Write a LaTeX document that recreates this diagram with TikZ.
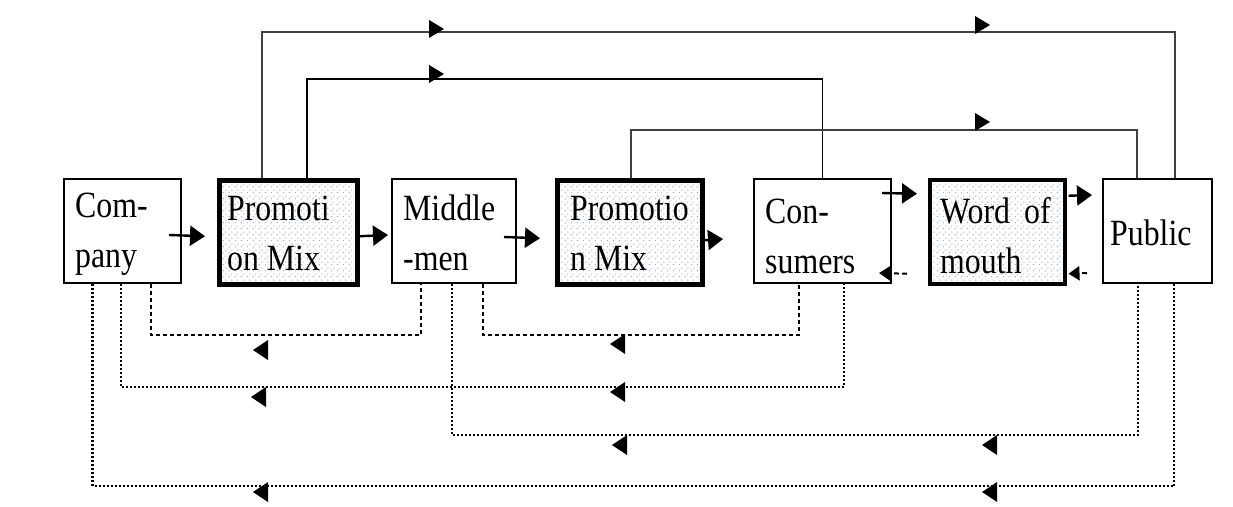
\documentclass[tikz,border=0pt]{standalone}
\usepackage{fontspec}
\newfontfamily\boxfont[FakeStretch=0.86]{Liberation Serif}
\usetikzlibrary{arrows.meta,patterns.meta}
\tikzdeclarepattern{
  name=sparsedots,
  type=uncolored,
  bounding box={(0pt,0pt) and (6pt,6pt)},
  tile size={(6pt,6pt)},
  code={\fill (1.5pt,1.5pt) circle (0.8pt); \fill (4.5pt,4.5pt) circle (0.8pt);}
}
\newcommand\myleftHead[2]{\fill (#1,#2) -- ++(15,-10) -- ++(0,20) -- cycle;}
\newcommand\myrightHead[2]{\fill (#1,#2) -- ++(-15,-9) -- ++(0,18) -- cycle;}
\begin{document}
\begin{tikzpicture}[x=1pt,y=-1pt,
  box/.style={draw, line width=2pt, minimum height=104pt, inner sep=0pt, anchor=north west},
  pbox/.style={box, line width=4.5pt, pattern=sparsedots, pattern color={rgb,255:red,150;green,178;blue,200}},
  wbox/.style={pbox, line width=3.5pt},
  txt/.style={font=\boxfont\fontsize{37}{50}\selectfont, align=left, inner sep=0pt, anchor=north west},
  arr/.style={line width=2.4pt, -{Triangle[length=15pt,width=20pt]}},
  back/.style={line width=2pt, dash pattern=on 5pt off 3pt, -{Triangle[length=11pt,width=14pt]}},
  topa/.style={line width=2pt, black!75},
  topb/.style={line width=1.8pt, black},
  dl/.style={line width=2.2pt, dash pattern=on 4pt off 3pt},
  dd/.style={line width=2.6pt, dash pattern=on 2pt off 2pt}
]
\useasboundingbox[fill=white] (0,0) rectangle (1233,506);

% boxes
\node[box,  minimum width=117pt] (comp) at (63,178) {};
\node[pbox, minimum width=138pt] (pm1)  at (217,178) {};
\node[box,  minimum width=124pt] (mm)   at (391,178) {};
\node[pbox, minimum width=145pt] (pm2)  at (555,178) {};
\node[box,  minimum width=137pt] (cons) at (753,178) {};
\node[wbox, minimum width=135pt] (wom)  at (928,178) {};
\node[box,  minimum width=109pt] (pub)  at (1102,178) {};

% texts
\node[txt] (compt) at (75,182) {\strut Com-\\pany};
\node[txt] (pm1t)  at (227,185) {\strut Promoti\\on Mix};
\node[txt] (mmt)   at (403,185) {\strut Middle\\-men};
\node[txt] (pm2t)  at (570,185) {\strut Promotio\\n Mix};
\node[txt] (const) at (765,188) {\strut Con-\\sumers};
\node[txt] (womt)  at (940,188) {\strut Word\hspace{14pt}of\\mouth};
\node[txt, anchor=base west] (pubt) at (1110,245) {Public};

% forward arrows between boxes
\draw[arr] ([xshift=-13pt,yshift=-4pt]comp.east) -- ([xshift=-12pt,yshift=-4pt]pm1.west);
\draw[arr] ([yshift=-4pt]pm1.east) -- ([xshift=-3pt,yshift=-4pt]mm.west);
\draw[arr] ([xshift=-13pt,yshift=-6pt]mm.east) -- ([xshift=-15pt,yshift=-6pt]pm2.west);
\draw[arr] ([yshift=-8pt]pm2.east) -- ([xshift=-30pt,yshift=-8pt]cons.west);
\draw[arr] ([xshift=-10pt,yshift=38pt]cons.east) -- ([xshift=-11pt,yshift=38pt]wom.west);
\draw[arr] ([xshift=2pt,yshift=36pt]wom.east) -- ([xshift=-10pt,yshift=36pt]pub.west);

% backward dashed arrows
\draw[back] ([xshift=-21pt,yshift=-42pt]wom.west) -- ([xshift=-13pt,yshift=-42pt]cons.east);
\draw[back] ([xshift=-15pt,yshift=-42pt]pub.west) -- ([xshift=2pt,yshift=-42pt]wom.east);

% top connectors
\draw[topa] ([xshift=45pt]pm1.north west) -- ++(0,-146) -| ([xshift=73pt]pub.north west);
\draw[topb] ([xshift=90pt]pm1.north west) -- ++(0,-99) -| (cons.north);
\draw[topa] ([xshift=76pt]pm2.north west) -- ++(0,-48) -| ([xshift=35pt]pub.north west);
\myrightHead{444}{29}
\myrightHead{990}{25}
\myrightHead{444}{74}
\myrightHead{990}{122}

% bottom dashed connectors
\draw[dl] ([xshift=88pt]comp.south west) -- ++(0,51) -| ([xshift=30pt]mm.south west);
\draw[dl] ([xshift=92pt]mm.south west) -- ++(0,51) -| ([xshift=46pt]cons.south west);
\draw[dd] ([xshift=58pt]comp.south west) -- ++(0,103) -| ([xshift=91pt]cons.south west);
\draw[dd] ([xshift=61pt]mm.south west) -- ++(0,151) -| ([xshift=36pt]pub.south west);
\draw[dd] ([xshift=29.5pt]comp.south west) -- ++(0,202) -| ([xshift=72pt]pub.south west);
\myleftHead{253}{350}
\myleftHead{610}{344}
\myleftHead{251}{397}
\myleftHead{610}{392}
\myleftHead{612}{445}
\myleftHead{982}{445}
\myleftHead{253}{492}
\myleftHead{982}{492}
\end{tikzpicture}
\end{document}
